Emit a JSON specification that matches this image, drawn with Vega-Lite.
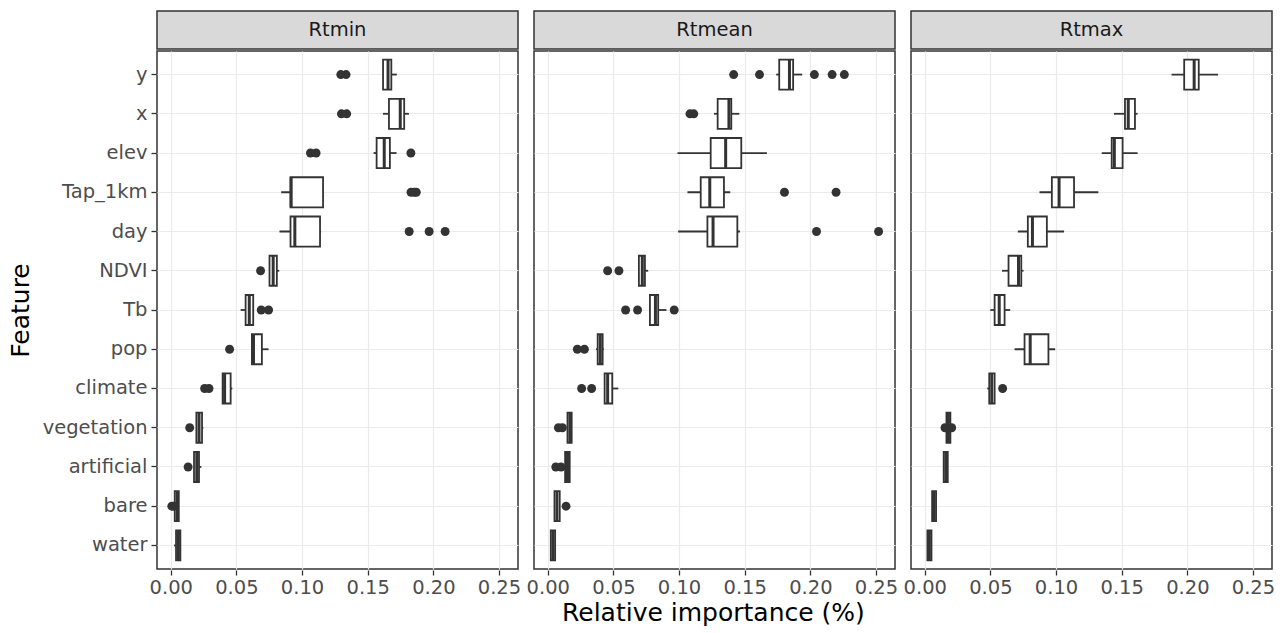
{
  "$schema": "https://vega.github.io/schema/vega-lite/v6.json",
  "background": "white",
  "padding": {"left": 8, "top": 10, "right": 5, "bottom": 5},
  "spacing": 0,
  "title": {
    "text": "Relative importance (%)",
    "orient": "bottom",
    "anchor": "middle",
    "font": "DejaVu Sans",
    "fontSize": 25,
    "fontWeight": "normal",
    "color": "#000000",
    "offset": 4,
    "dx": 72
  },
  "config": {
    "font": "DejaVu Sans",
    "view": {"stroke": "#333333"},
    "axis": {
      "labelFont": "DejaVu Sans",
      "titleFont": "DejaVu Sans",
      "labelColor": "#4D4D4D",
      "labelFontSize": 19.5,
      "titleFontSize": 25,
      "titleColor": "#000000",
      "titleFontWeight": "normal",
      "tickColor": "#333333",
      "tickSize": 5,
      "tickWidth": 1.3,
      "domain": false,
      "gridColor": "#EBEBEB"
    }
  },
  "datasets": {
    "d": [
      {"panel": "Rtmin", "feature": "y", "min": 0.1617, "q1": 0.1617, "median": 0.1655, "q3": 0.168, "max": 0.1722},
      {"panel": "Rtmin", "feature": "x", "min": 0.1616, "q1": 0.1662, "median": 0.1748, "q3": 0.1778, "max": 0.1814},
      {"panel": "Rtmin", "feature": "elev", "min": 0.1545, "q1": 0.1568, "median": 0.1626, "q3": 0.1669, "max": 0.172},
      {"panel": "Rtmin", "feature": "Tap_1km", "min": 0.0841, "q1": 0.0912, "median": 0.0917, "q3": 0.116, "max": 0.116},
      {"panel": "Rtmin", "feature": "day", "min": 0.0828, "q1": 0.0912, "median": 0.0945, "q3": 0.1137, "max": 0.1145},
      {"panel": "Rtmin", "feature": "NDVI", "min": 0.0752, "q1": 0.0752, "median": 0.078, "q3": 0.0808, "max": 0.0826},
      {"panel": "Rtmin", "feature": "Tb", "min": 0.0532, "q1": 0.057, "median": 0.0598, "q3": 0.0628, "max": 0.0632},
      {"panel": "Rtmin", "feature": "pop", "min": 0.0618, "q1": 0.0618, "median": 0.063, "q3": 0.0694, "max": 0.0745},
      {"panel": "Rtmin", "feature": "climate", "min": 0.0395, "q1": 0.0395, "median": 0.041, "q3": 0.0456, "max": 0.0469},
      {"panel": "Rtmin", "feature": "vegetation", "min": 0.0195, "q1": 0.0195, "median": 0.0215, "q3": 0.0238, "max": 0.0248},
      {"panel": "Rtmin", "feature": "artificial", "min": 0.0177, "q1": 0.0177, "median": 0.0198, "q3": 0.0215, "max": 0.0233},
      {"panel": "Rtmin", "feature": "bare", "min": 0.003, "q1": 0.003, "median": 0.0048, "q3": 0.0061, "max": 0.0061},
      {"panel": "Rtmin", "feature": "water", "min": 0.0025, "q1": 0.004, "median": 0.0058, "q3": 0.0073, "max": 0.0073},
      {"panel": "Rtmean", "feature": "y", "min": 0.174, "q1": 0.1763, "median": 0.1841, "q3": 0.1869, "max": 0.1938},
      {"panel": "Rtmean", "feature": "x", "min": 0.1266, "q1": 0.1294, "median": 0.138, "q3": 0.1398, "max": 0.1459},
      {"panel": "Rtmean", "feature": "elev", "min": 0.0988, "q1": 0.1241, "median": 0.1355, "q3": 0.1474, "max": 0.1669},
      {"panel": "Rtmean", "feature": "Tap_1km", "min": 0.1064, "q1": 0.1165, "median": 0.1234, "q3": 0.1342, "max": 0.139},
      {"panel": "Rtmean", "feature": "day", "min": 0.0993, "q1": 0.1216, "median": 0.1259, "q3": 0.1444, "max": 0.1464},
      {"panel": "Rtmean", "feature": "NDVI", "min": 0.0694, "q1": 0.0694, "median": 0.072, "q3": 0.074, "max": 0.0765},
      {"panel": "Rtmean", "feature": "Tb", "min": 0.0778, "q1": 0.0778, "median": 0.082, "q3": 0.0841, "max": 0.0904},
      {"panel": "Rtmean", "feature": "pop", "min": 0.0367, "q1": 0.038, "median": 0.04, "q3": 0.0418, "max": 0.0426},
      {"panel": "Rtmean", "feature": "climate", "min": 0.0433, "q1": 0.0433, "median": 0.0456, "q3": 0.0491, "max": 0.0537},
      {"panel": "Rtmean", "feature": "vegetation", "min": 0.015, "q1": 0.015, "median": 0.0168, "q3": 0.0182, "max": 0.0182},
      {"panel": "Rtmean", "feature": "artificial", "min": 0.0132, "q1": 0.0132, "median": 0.015, "q3": 0.0167, "max": 0.0167},
      {"panel": "Rtmean", "feature": "bare", "min": 0.0051, "q1": 0.0051, "median": 0.007, "q3": 0.0091, "max": 0.0091},
      {"panel": "Rtmean", "feature": "water", "min": 0.0023, "q1": 0.0023, "median": 0.004, "q3": 0.0056, "max": 0.006},
      {"panel": "Rtmax", "feature": "y", "min": 0.188, "q1": 0.1976, "median": 0.2052, "q3": 0.2087, "max": 0.2234},
      {"panel": "Rtmax", "feature": "x", "min": 0.1441, "q1": 0.1525, "median": 0.155, "q3": 0.1601, "max": 0.1621},
      {"panel": "Rtmax", "feature": "elev", "min": 0.1348, "q1": 0.1424, "median": 0.1444, "q3": 0.1507, "max": 0.1621},
      {"panel": "Rtmax", "feature": "Tap_1km", "min": 0.0874, "q1": 0.0968, "median": 0.1023, "q3": 0.1137, "max": 0.1322},
      {"panel": "Rtmax", "feature": "day", "min": 0.0709, "q1": 0.0785, "median": 0.082, "q3": 0.093, "max": 0.1061},
      {"panel": "Rtmax", "feature": "NDVI", "min": 0.0588, "q1": 0.0638, "median": 0.0714, "q3": 0.0735, "max": 0.0752},
      {"panel": "Rtmax", "feature": "Tb", "min": 0.0499, "q1": 0.0532, "median": 0.0567, "q3": 0.0608, "max": 0.0651},
      {"panel": "Rtmax", "feature": "pop", "min": 0.0684, "q1": 0.076, "median": 0.0803, "q3": 0.0942, "max": 0.0993},
      {"panel": "Rtmax", "feature": "climate", "min": 0.0476, "q1": 0.0491, "median": 0.051, "q3": 0.0532, "max": 0.0532},
      {"panel": "Rtmax", "feature": "vegetation", "min": 0.0165, "q1": 0.0165, "median": 0.018, "q3": 0.0195, "max": 0.0195},
      {"panel": "Rtmax", "feature": "artificial", "min": 0.0144, "q1": 0.0144, "median": 0.016, "q3": 0.0175, "max": 0.0175},
      {"panel": "Rtmax", "feature": "bare", "min": 0.0056, "q1": 0.0056, "median": 0.007, "q3": 0.0086, "max": 0.0086},
      {"panel": "Rtmax", "feature": "water", "min": 0.002, "q1": 0.002, "median": 0.0035, "q3": 0.0051, "max": 0.0051},
      {"panel": "Rtmin", "feature": "y", "outlier": 0.1295},
      {"panel": "Rtmin", "feature": "y", "outlier": 0.1335},
      {"panel": "Rtmin", "feature": "x", "outlier": 0.13},
      {"panel": "Rtmin", "feature": "x", "outlier": 0.134},
      {"panel": "Rtmin", "feature": "elev", "outlier": 0.1064},
      {"panel": "Rtmin", "feature": "elev", "outlier": 0.1107},
      {"panel": "Rtmin", "feature": "elev", "outlier": 0.1829},
      {"panel": "Rtmin", "feature": "Tap_1km", "outlier": 0.183},
      {"panel": "Rtmin", "feature": "Tap_1km", "outlier": 0.1855},
      {"panel": "Rtmin", "feature": "Tap_1km", "outlier": 0.187},
      {"panel": "Rtmin", "feature": "day", "outlier": 0.1816},
      {"panel": "Rtmin", "feature": "day", "outlier": 0.1968},
      {"panel": "Rtmin", "feature": "day", "outlier": 0.209},
      {"panel": "Rtmin", "feature": "NDVI", "outlier": 0.0684},
      {"panel": "Rtmin", "feature": "Tb", "outlier": 0.0689},
      {"panel": "Rtmin", "feature": "Tb", "outlier": 0.0745},
      {"panel": "Rtmin", "feature": "pop", "outlier": 0.0448},
      {"panel": "Rtmin", "feature": "climate", "outlier": 0.0258},
      {"panel": "Rtmin", "feature": "climate", "outlier": 0.0291},
      {"panel": "Rtmin", "feature": "vegetation", "outlier": 0.0144},
      {"panel": "Rtmin", "feature": "artificial", "outlier": 0.0132},
      {"panel": "Rtmin", "feature": "bare", "outlier": 0.0008},
      {"panel": "Rtmin", "feature": "bare", "outlier": 0.0022},
      {"panel": "Rtmean", "feature": "y", "outlier": 0.1416},
      {"panel": "Rtmean", "feature": "y", "outlier": 0.1613},
      {"panel": "Rtmean", "feature": "y", "outlier": 0.2031},
      {"panel": "Rtmean", "feature": "y", "outlier": 0.2166},
      {"panel": "Rtmean", "feature": "y", "outlier": 0.2259},
      {"panel": "Rtmean", "feature": "x", "outlier": 0.1083},
      {"panel": "Rtmean", "feature": "x", "outlier": 0.1112},
      {"panel": "Rtmean", "feature": "Tap_1km", "outlier": 0.1803},
      {"panel": "Rtmean", "feature": "Tap_1km", "outlier": 0.2196},
      {"panel": "Rtmean", "feature": "day", "outlier": 0.2047},
      {"panel": "Rtmean", "feature": "day", "outlier": 0.252},
      {"panel": "Rtmean", "feature": "NDVI", "outlier": 0.0456},
      {"panel": "Rtmean", "feature": "NDVI", "outlier": 0.0542},
      {"panel": "Rtmean", "feature": "Tb", "outlier": 0.0593},
      {"panel": "Rtmean", "feature": "Tb", "outlier": 0.0684},
      {"panel": "Rtmean", "feature": "Tb", "outlier": 0.0963},
      {"panel": "Rtmean", "feature": "pop", "outlier": 0.0225},
      {"panel": "Rtmean", "feature": "pop", "outlier": 0.0279},
      {"panel": "Rtmean", "feature": "climate", "outlier": 0.0258},
      {"panel": "Rtmean", "feature": "climate", "outlier": 0.0334},
      {"panel": "Rtmean", "feature": "vegetation", "outlier": 0.0081},
      {"panel": "Rtmean", "feature": "vegetation", "outlier": 0.0111},
      {"panel": "Rtmean", "feature": "artificial", "outlier": 0.0061},
      {"panel": "Rtmean", "feature": "artificial", "outlier": 0.0101},
      {"panel": "Rtmean", "feature": "bare", "outlier": 0.0139},
      {"panel": "Rtmax", "feature": "climate", "outlier": 0.0593},
      {"panel": "Rtmax", "feature": "vegetation", "outlier": 0.0154},
      {"panel": "Rtmax", "feature": "vegetation", "outlier": 0.0205}
    ]
  },
  "vconcat": [
    {
      "data": {"name": "d"},
      "transform": [
        {"filter": "isValid(datum.q1)"},
        {"aggregate": [{"op": "count", "as": "n"}], "groupby": ["panel"]}
      ],
      "facet": {
        "column": {"field": "panel", "type": "nominal", "sort": ["Rtmin", "Rtmean", "Rtmax"], "header": null, "title": null}
      },
      "spacing": 14,
      "spec": {
        "width": 361,
        "height": 38,
        "view": {"fill": "#D9D9D9", "stroke": "#333333", "strokeWidth": 1.5},
        "mark": {"type": "text", "fontSize": 19.5, "color": "#1A1A1A", "font": "DejaVu Sans"},
        "encoding": {"text": {"field": "panel", "type": "nominal"}}
      }
    },
    {
      "data": {"name": "d"},
      "facet": {
        "column": {"field": "panel", "type": "nominal", "sort": ["Rtmin", "Rtmean", "Rtmax"], "header": null, "title": null}
      },
      "spacing": 14,
      "spec": {
        "width": 361,
        "height": 518,
        "view": {"fill": "white", "stroke": "#333333", "strokeWidth": 1.5},
        "encoding": {
          "y": {
            "field": "feature",
            "type": "nominal",
            "sort": ["y", "x", "elev", "Tap_1km", "day", "NDVI", "Tb", "pop", "climate", "vegetation", "artificial", "bare", "water"],
            "scale": {"paddingInner": 0, "paddingOuter": 0.1},
            "title": "Feature",
            "axis": {"bandPosition": 0.5, "grid": true, "gridWidth": 1.2, "labelPadding": 4, "titlePadding": 9}
          }
        },
        "layer": [
          {
            "transform": [{"filter": "isValid(datum.q1)"}],
            "mark": {"type": "rule", "color": "#333333", "strokeWidth": 1.8},
            "encoding": {
              "x": {
                "field": "min", "type": "quantitative",
                "scale": {"domain": [-0.0105, 0.2645], "nice": false, "zero": false},
                "title": null,
                "axis": {
                  "values": [0, 0.025, 0.05, 0.075, 0.1, 0.125, 0.15, 0.175, 0.2, 0.225, 0.25],
                  "labelExpr": "round(datum.value*40)%2==0 ? format(datum.value,'.2f') : ''",
                  "grid": true,
                  "gridWidth": {"condition": {"test": "round(datum.value*40)%2==1", "value": 0.6}, "value": 1.2},
                  "tickOpacity": {"condition": {"test": "round(datum.value*40)%2==1", "value": 0}, "value": 1},
                  "labelPadding": 3
                }
              },
              "x2": {"field": "max"}
            }
          },
          {
            "transform": [{"filter": "isValid(datum.q1)"}],
            "mark": {"type": "bar", "fill": "white", "stroke": "#333333", "strokeWidth": 1.8, "height": {"band": 0.765}},
            "encoding": {
              "x": {"field": "q1", "type": "quantitative", "title": null},
              "x2": {"field": "q3"}
            }
          },
          {
            "transform": [{"filter": "isValid(datum.q1)"}],
            "mark": {"type": "tick", "orient": "vertical", "color": "#333333", "size": 30, "thickness": 3, "opacity": 1},
            "encoding": {
              "x": {"field": "median", "type": "quantitative", "title": null}
            }
          },
          {
            "transform": [{"filter": "isValid(datum.outlier)"}],
            "mark": {"type": "point", "filled": true, "color": "#333333", "size": 80, "opacity": 1},
            "encoding": {
              "x": {"field": "outlier", "type": "quantitative", "title": null}
            }
          }
        ]
      }
    }
  ]
}
